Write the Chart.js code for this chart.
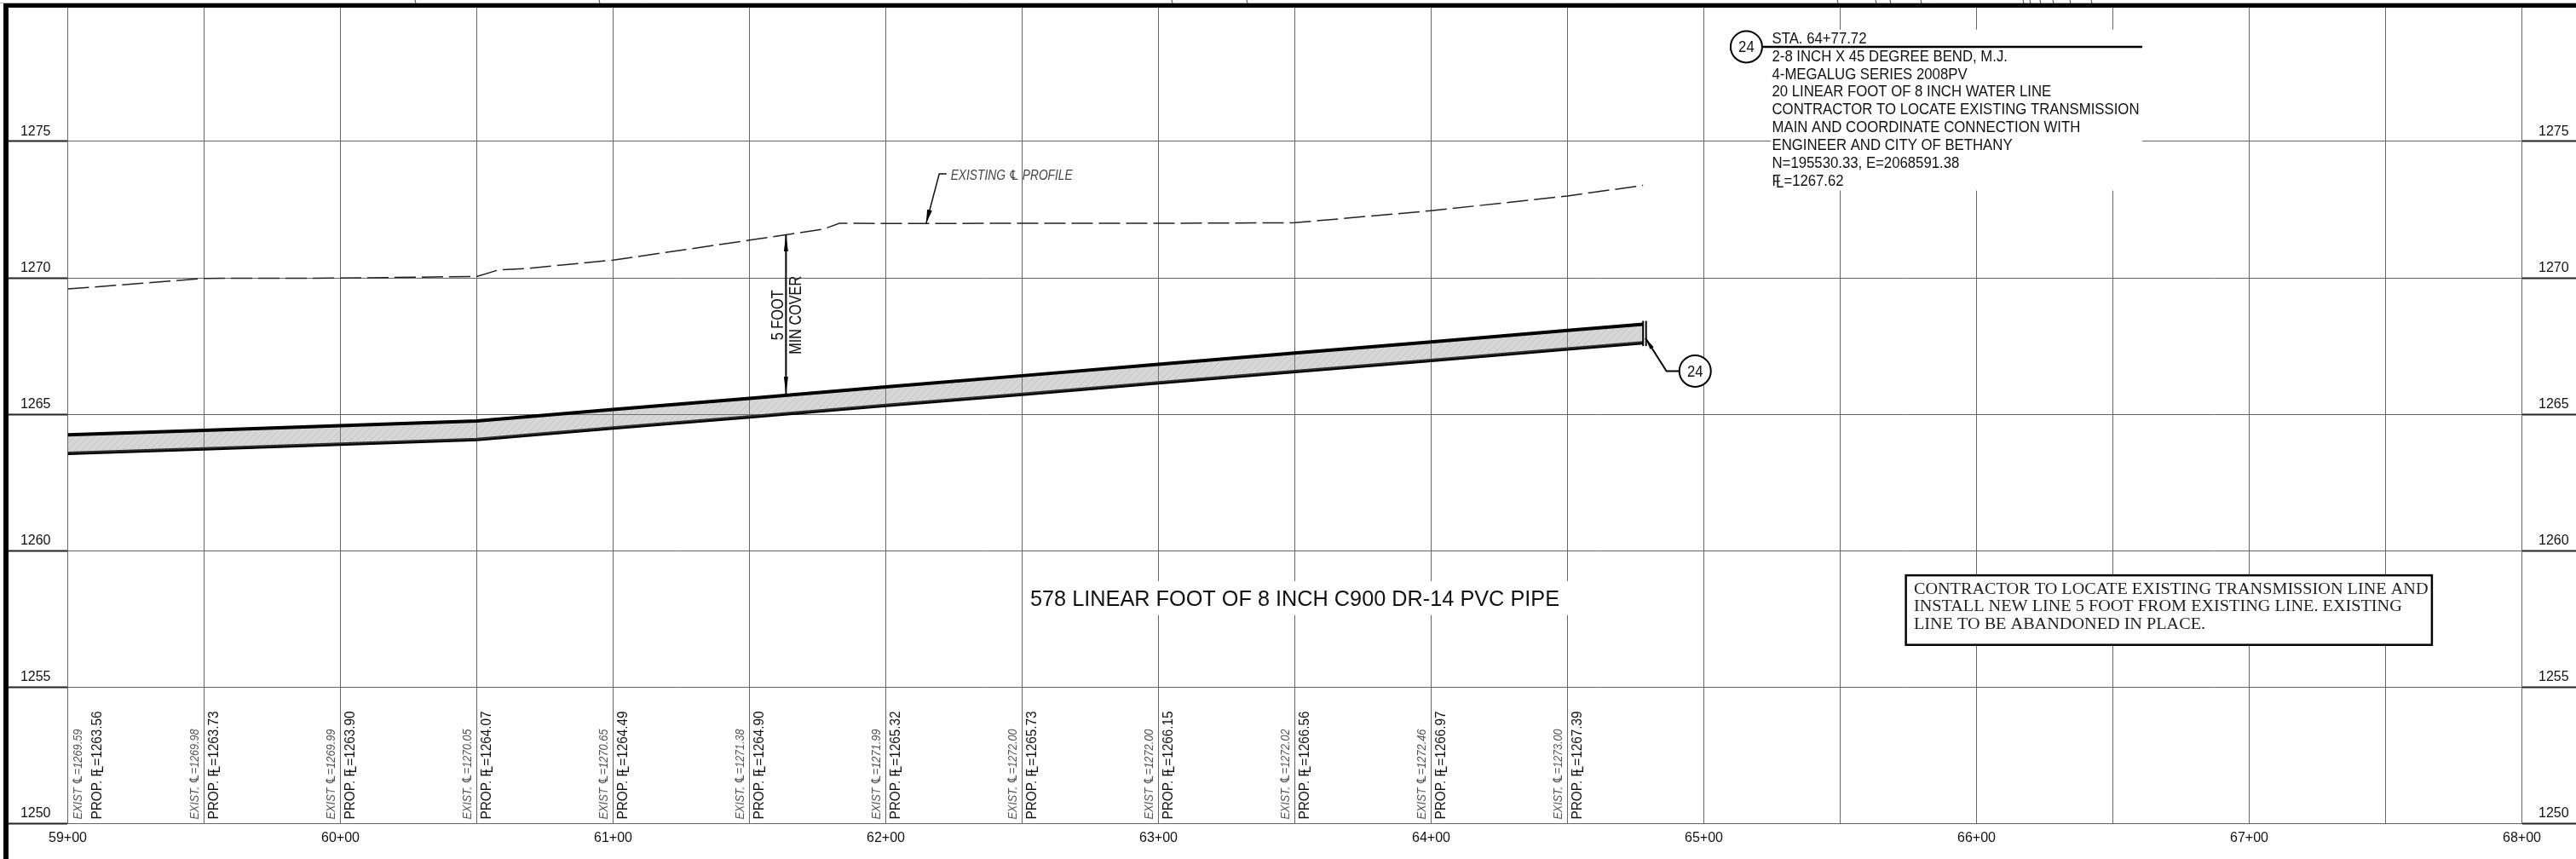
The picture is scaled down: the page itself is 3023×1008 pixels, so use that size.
<!DOCTYPE html>
<html lang="en">
<head>
    <meta charset="UTF-8">
    <title>Water Line Profile</title>
    <script src="https://cdn.jsdelivr.net/npm/chart.js"></script>
    <style>
        body { margin: 0; background-color: white; }
        canvas { display: block; }
    </style>
</head>
<body>
<canvas id="profileChart" width="3023" height="1008"></canvas>

<script>
    // Tick labels
    const stationTicks = ['59+00', '60+00', '61+00', '62+00', '63+00', '64+00', '65+00', '66+00', '67+00', '68+00'];
    const elevationTicks = [1250, 1255, 1260, 1265, 1270, 1275];

    // Values printed along the bottom, one for every 50 foot station
    const labelStations = [5900, 5950, 6000, 6050, 6100, 6150, 6200, 6250, 6300, 6350, 6400, 6450];
    const existLabels = [1269.59, 1269.98, 1269.99, 1270.05, 1270.65, 1271.38, 1271.99, 1272.00, 1272.00, 1272.02, 1272.46, 1273.00];
    const propLabels = [1263.56, 1263.73, 1263.90, 1264.07, 1264.49, 1264.90, 1265.32, 1265.73, 1266.15, 1266.56, 1266.97, 1267.39];

    // Existing centerline profile (dashed)
    const existStations = [5900, 5950, 6000, 6050, 6058, 6068, 6100, 6150, 6177, 6183, 6200, 6250, 6300, 6350, 6400, 6450, 6477.72];
    const existElevations = [1269.59, 1269.98, 1269.99, 1270.05, 1270.29, 1270.34, 1270.65, 1271.38, 1271.78, 1272.00, 1271.99, 1272.00, 1272.00, 1272.02, 1272.46, 1273.00, 1273.39];

    // Proposed pipe, flow line and top of pipe
    const pipeStations = [5900, 5950, 6000, 6050, 6100, 6150, 6200, 6250, 6300, 6350, 6400, 6450, 6477.72];
    const pipeBottom = [1263.56, 1263.73, 1263.90, 1264.07, 1264.49, 1264.90, 1265.32, 1265.73, 1266.15, 1266.56, 1266.97, 1267.39, 1267.62];
    const pipeTop = [1264.24, 1264.41, 1264.58, 1264.75, 1265.17, 1265.58, 1266.00, 1266.41, 1266.83, 1267.24, 1267.65, 1268.07, 1268.30];

    // Note text
    const bendNote = [
        'STA. 64+77.72',
        '2-8 INCH X 45 DEGREE BEND, M.J.',
        '4-MEGALUG SERIES 2008PV',
        '20 LINEAR FOOT OF 8 INCH WATER LINE',
        'CONTRACTOR TO LOCATE EXISTING TRANSMISSION',
        'MAIN AND COORDINATE CONNECTION WITH',
        'ENGINEER AND CITY OF BETHANY',
        'N=195530.33, E=2068591.38'
    ];
    const bendNoteElev = [1278.74, 1278.10, 1277.44, 1276.81, 1276.16, 1275.50, 1274.85, 1274.19];
    const boxNote = [
        'CONTRACTOR TO LOCATE EXISTING TRANSMISSION LINE AND',
        'INSTALL NEW LINE 5 FOOT FROM EXISTING LINE. EXISTING',
        'LINE TO BE ABANDONED IN PLACE.'
    ];
    const boxNoteElev = [1258.56, 1257.94, 1257.29];

    const SANS = '"Liberation Sans", "DejaVu Sans", sans-serif';
    const SERIF = '"Liberation Serif", serif';

    // fine hatch for the pipe, see-through so the grid still shows
    function pipePattern() {
        const c = document.createElement('canvas');
        c.width = 8;
        c.height = 8;
        const g = c.getContext('2d');
        g.fillStyle = 'rgba(130,130,130,0.33)';
        g.fillRect(0, 0, 8, 8);
        g.strokeStyle = 'rgba(130,130,130,0.18)';
        g.lineWidth = 1;
        g.beginPath();
        g.moveTo(0, 8);
        g.lineTo(8, 0);
        g.stroke();
        return g.createPattern(c, 'repeat');
    }

    function xy(xs, ys) {
        return xs.map((x, i) => ({ x: x, y: ys[i] }));
    }

    // text squeezed to a given width, with optional quarter turn
    function putText(ctx, str, x, y, o) {
        ctx.save();
        ctx.font = o.font;
        ctx.fillStyle = o.color || '#111';
        ctx.textBaseline = 'middle';
        ctx.textAlign = o.align || 'left';
        ctx.translate(x, y);
        if (o.rotate) ctx.rotate(-Math.PI / 2);
        if (o.sx) ctx.scale(o.sx, 1);
        ctx.fillText(str, 0, 0);
        ctx.restore();
    }

    // flow line symbol: F and L overlapped, L dropped a little
    function flowText(ctx, pre, post, x, y, o) {
        ctx.save();
        ctx.font = o.font;
        ctx.fillStyle = o.color || '#111';
        ctx.textBaseline = 'middle';
        ctx.translate(x, y);
        if (o.rotate) ctx.rotate(-Math.PI / 2);
        const fw = ctx.measureText('F').width * 0.45;
        const lw = ctx.measureText('L').width;
        const total = ctx.measureText(pre).width + fw + lw + ctx.measureText(post).width;
        ctx.scale(o.width / total, 1);
        let cx = 0;
        ctx.fillText(pre, cx, 0);
        cx += ctx.measureText(pre).width;
        ctx.fillText('F', cx, 0);
        cx += fw;
        ctx.fillText('L', cx, o.drop);
        cx += lw;
        ctx.fillText(post, cx, 0);
        ctx.restore();
    }

    function widthScale(ctx, font, str, width) {
        ctx.save();
        ctx.font = font;
        const s = width / ctx.measureText(str).width;
        ctx.restore();
        return s;
    }

    function arrow(ctx, tipX, tipY, fromX, fromY, len, half) {
        const a = Math.atan2(fromY - tipY, fromX - tipX);
        ctx.beginPath();
        ctx.moveTo(tipX, tipY);
        ctx.lineTo(tipX + len * Math.cos(a) + half * Math.sin(a), tipY + len * Math.sin(a) - half * Math.cos(a));
        ctx.lineTo(tipX + len * Math.cos(a) - half * Math.sin(a), tipY + len * Math.sin(a) + half * Math.cos(a));
        ctx.closePath();
        ctx.fill();
    }

    function polyline(ctx, pts, width, color) {
        ctx.strokeStyle = color || '#000';
        ctx.lineWidth = width;
        ctx.beginPath();
        pts.forEach((p, i) => i ? ctx.lineTo(p[0], p[1]) : ctx.moveTo(p[0], p[1]));
        ctx.stroke();
    }

    function bubble(ctx, x, y, text) {
        ctx.beginPath();
        ctx.arc(x, y, 18.5, 0, Math.PI * 2);
        ctx.fillStyle = 'white';
        ctx.fill();
        ctx.strokeStyle = '#000';
        ctx.lineWidth = 2;
        ctx.stroke();
        putText(ctx, text, x, y + 1, { font: '19px ' + SANS, align: 'center', sx: 0.88 });
    }

    const drawingNotes = {
        id: 'drawingNotes',
        afterDraw(chart) {
            const ctx = chart.ctx;
            const X = v => chart.scales.x.getPixelForValue(v);
            const Y = v => chart.scales.y.getPixelForValue(v);
            ctx.save();

            // white knock-outs behind the notes
            ctx.fillStyle = 'white';
            ctx.fillRect(X(6524.5), Y(1279.1), X(6660.8) - X(6524.5), Y(1273.2) - Y(1279.1));
            ctx.fillRect(X(6251.7), Y(1258.88), X(6450.8) - X(6251.7), Y(1257.63) - Y(1258.88));

            // pipe end cap
            polyline(ctx, [[X(6477.72), Y(1268.42)], [X(6477.72), Y(1267.5)]], 2);
            polyline(ctx, [[X(6477.72) + 3.5, Y(1268.42)], [X(6477.72) + 3.5, Y(1267.5)]], 2);

            // 5 foot cover dimension
            const coverX = X(6163.4);
            polyline(ctx, [[coverX, Y(1271.59)], [coverX, Y(1265.75)]], 2);
            ctx.fillStyle = '#000';
            arrow(ctx, coverX, Y(1271.59), coverX, Y(1270), 20, 2.5);
            arrow(ctx, coverX, Y(1265.75), coverX, Y(1267), 20, 2.5);
            const coverFont = '20px ' + SANS;
            putText(ctx, '5 FOOT', X(6160.6), Y(1268.63), { font: coverFont, rotate: true, align: 'center', sx: widthScale(ctx, coverFont, '5 FOOT', 59) });
            putText(ctx, 'MIN COVER', X(6167.1), Y(1268.63), { font: coverFont, rotate: true, align: 'center', sx: widthScale(ctx, coverFont, 'MIN COVER', 92) });

            // existing profile callout
            polyline(ctx, [[X(6214.8), Y(1272)], [X(6219.6), Y(1273.81)], [X(6222.3), Y(1273.81)]], 1.5, '#111');
            ctx.fillStyle = '#000';
            arrow(ctx, X(6214.8), Y(1272), X(6219.6), Y(1273.81), 16, 3);
            const italicFont = 'italic 16px ' + SANS;
            const profText = 'EXISTING \u2104 PROFILE';
            putText(ctx, profText, X(6223.8), Y(1273.74), { font: italicFont, color: '#444', sx: widthScale(ctx, italicFont, profText, 143) });

            // bubble 24 at the end of the pipe
            polyline(ctx, [[X(6478.6), Y(1267.79)], [X(6486.3), Y(1266.58)], [X(6490.8), Y(1266.58)]], 2);
            ctx.fillStyle = '#000';
            arrow(ctx, X(6478.6), Y(1267.79), X(6486.3), Y(1266.58), 14, 2.5);
            bubble(ctx, X(6496.8), Y(1266.58), '24');

            // bend note
            polyline(ctx, [[X(6515.6) + 18, Y(1278.47)], [X(6660.8), Y(1278.47)]], 2.5);
            bubble(ctx, X(6515.6), Y(1278.47), '24');
            const noteFont = '17.5px ' + SANS;
            const noteScale = widthScale(ctx, noteFont, bendNote[4], 431);
            bendNote.forEach((line, i) => {
                putText(ctx, line, X(6525), Y(bendNoteElev[i]), { font: noteFont, sx: noteScale });
            });
            flowText(ctx, '', '=1267.62', X(6525), Y(1273.52), { font: noteFont, width: 84, drop: 2 });

            // big pipe label
            const bigFont = '25px ' + SANS;
            const bigText = '578 LINEAR FOOT OF 8 INCH C900 DR-14 PVC PIPE';
            putText(ctx, bigText, X(6350), Y(1258.19), { font: bigFont, align: 'center', sx: widthScale(ctx, bigFont, bigText, 621) });

            // boxed note
            ctx.fillStyle = 'white';
            ctx.fillRect(X(6574.1), Y(1259.09), X(6767) - X(6574.1), Y(1256.54) - Y(1259.09));
            ctx.strokeStyle = '#000';
            ctx.lineWidth = 2.5;
            ctx.strokeRect(X(6574.1), Y(1259.09), X(6767) - X(6574.1), Y(1256.54) - Y(1259.09));
            const boxFont = '18.5px ' + SERIF;
            const boxScale = widthScale(ctx, boxFont, boxNote[0], 603.6);
            boxNote.forEach((line, i) => {
                putText(ctx, line, X(6577), Y(boxNoteElev[i]), { font: boxFont, color: '#222', sx: boxScale });
            });

            // station values along the bottom
            const existFont = 'italic 15px ' + SANS;
            const propFont = '16.5px ' + SANS;
            labelStations.forEach((sta, i) => {
                const shift = i === 0 ? 23 : 0;
                const exist = (i % 2 ? 'EXIST. ' : 'EXIST ') + '\u2104=' + existLabels[i].toFixed(2);
                putText(ctx, exist, X(sta) - 11 + shift, 961.5, { font: existFont, color: '#555', rotate: true, sx: widthScale(ctx, existFont, exist, 106) });
                flowText(ctx, 'PROP. ', '=' + propLabels[i].toFixed(2), X(sta) + 12 + shift, 961.5, { font: propFont, rotate: true, width: 127, drop: 1.5 });
            });

            // sheet border and the bit of the next sheet above it
            polyline(ctx, [[0, 3.5], [3023, 3.5]], 1, '#bbb');
            [488, 704, 1376, 1464, 2157, 2202, 2219, 2255, 2375, 2383, 2395, 2410, 2430, 2455].forEach(px => {
                polyline(ctx, [[px - 1, 0], [px, 4]], 1, '#444');
            });
            ctx.fillStyle = '#000';
            ctx.fillRect(4, 4, 3019, 5);
            ctx.fillRect(4, 4, 6, 1004);
            ctx.restore();
        }
    };

    new Chart(document.getElementById('profileChart'), {
        type: 'line',
        data: {
            datasets: [{
                label: 'Existing centerline',
                data: xy(existStations, existElevations),
                borderColor: '#222',
                borderWidth: 1.5,
                borderDash: [25, 7],
                pointRadius: 0,
                tension: 0
            }, {
                label: 'Top of pipe',
                data: xy(pipeStations, pipeTop),
                borderColor: '#000',
                borderWidth: 4,
                pointRadius: 0,
                tension: 0,
                fill: '+1',
                backgroundColor: pipePattern()
            }, {
                label: 'Proposed flow line',
                data: xy(pipeStations, pipeBottom),
                borderColor: '#000',
                borderWidth: 4,
                pointRadius: 0,
                tension: 0
            }]
        },
        options: {
            responsive: false,
            animation: false,
            layout: { padding: { top: 6, left: 0, right: 0, bottom: 0 } },
            plugins: {
                legend: { display: false },
                tooltip: { enabled: false },
                title: { display: false }
            },
            scales: {
                x: {
                    type: 'linear',
                    min: 5900,
                    max: 6800,
                    afterFit: s => { s.height = 42; },
                    border: { color: '#666', width: 1 },
                    grid: { color: '#666', lineWidth: 1, drawTicks: false },
                    ticks: {
                        stepSize: 50,
                        autoSkip: false,
                        maxRotation: 0,
                        padding: 8,
                        color: '#111',
                        font: { family: SANS, size: 16 },
                        callback: v => (v % 100 === 0 ? stationTicks[(v - 5900) / 100] : '')
                    }
                },
                y: {
                    position: 'left',
                    min: 1250,
                    max: 1280,
                    afterFit: s => { s.width = 79.5; },
                    border: { color: '#666', width: 1 },
                    grid: { color: '#666', lineWidth: 1, tickLength: 70, tickColor: '#222', tickWidth: 2 },
                    ticks: {
                        stepSize: 5,
                        padding: -50,
                        labelOffset: -11.5,
                        color: '#111',
                        font: { family: SANS, size: 16 },
                        callback: v => (elevationTicks.includes(v) ? v : '')
                    }
                },
                y2: {
                    position: 'right',
                    min: 1250,
                    max: 1280,
                    afterFit: s => { s.width = 63.5; },
                    border: { color: '#666', width: 1 },
                    grid: { drawOnChartArea: false, tickLength: 64, tickColor: '#222', tickWidth: 2 },
                    ticks: {
                        stepSize: 5,
                        padding: -44.5,
                        labelOffset: -11.5,
                        color: '#111',
                        font: { family: SANS, size: 16 },
                        callback: v => (elevationTicks.includes(v) ? v : '')
                    }
                }
            }
        },
        plugins: [drawingNotes]
    });
</script>
</body>
</html>
